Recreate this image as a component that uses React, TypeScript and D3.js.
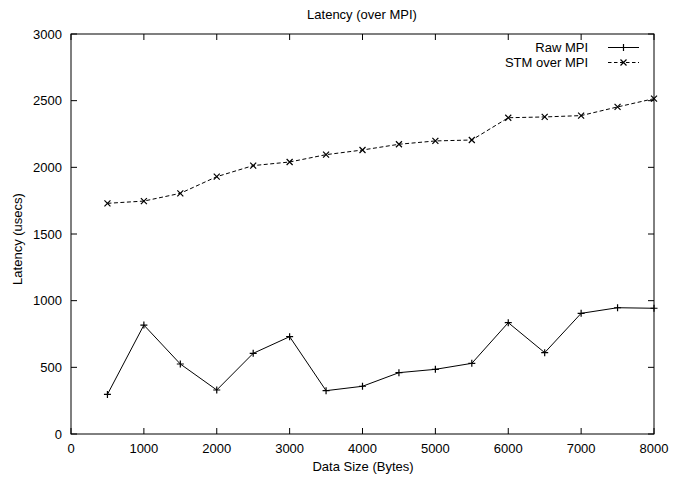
import React from 'react'
import * as d3 from 'd3'

// data sizes in bytes
const sizes = [500, 1000, 1500, 2000, 2500, 3000, 3500, 4000, 4500, 5000, 5500, 6000, 6500, 7000, 7500, 8000]
// latency in usecs
const rawMpi = [297, 817, 525, 330, 605, 730, 325, 358, 460, 485, 530, 835, 610, 905, 947, 943]
const stmOverMpi = [1730, 1747, 1805, 1930, 2013, 2040, 2095, 2130, 2173, 2198, 2205, 2372, 2378, 2388, 2453, 2515]

const xTicks = [0, 1000, 2000, 3000, 4000, 5000, 6000, 7000, 8000]
const yTicks = [0, 500, 1000, 1500, 2000, 2500, 3000]

const width = 679
const height = 481
const margin = { top: 34, right: 25, bottom: 47, left: 71 }
const font = '"Liberation Sans", Arial, sans-serif'

export default function App() {
  const x = d3.scaleLinear().domain([0, 8000]).range([margin.left, width - margin.right])
  const y = d3.scaleLinear().domain([0, 3000]).range([height - margin.bottom, margin.top])

  const line = d3.line<number>()
    .x((_, i) => x(sizes[i]))
    .y(d => y(d))

  const x0 = x(0), x1 = x(8000), y0 = y(0), y1 = y(3000)
  const tickLen = 6

  const plus = (cx: number, cy: number, s = 3.5) =>
    `M${cx - s},${cy}H${cx + s}M${cx},${cy - s}V${cy + s}`
  const cross = (cx: number, cy: number, s = 3) =>
    `M${cx - s},${cy - s}L${cx + s},${cy + s}M${cx - s},${cy + s}L${cx + s},${cy - s}`

  const legendX1 = 608
  const legendX2 = 639

  return (
    <svg width={width} height={height} style={{ position: 'absolute', left: 0, top: 0, background: '#fff' }}
      fontFamily={font} fontSize={13}>
      <rect x={0} y={0} width={width} height={height} fill="#fff" />

      {/* ticks */}
      {xTicks.map(t => (
        <g key={'x' + t}>
          <line x1={x(t)} x2={x(t)} y1={y0} y2={y0 - tickLen} stroke="#000" />
          <line x1={x(t)} x2={x(t)} y1={y1} y2={y1 + tickLen} stroke="#000" />
          <text x={x(t)} y={y0 + 19} textAnchor="middle" fill="#000">{t}</text>
        </g>
      ))}
      {yTicks.map(t => (
        <g key={'y' + t}>
          <line x1={x0} x2={x0 + tickLen} y1={y(t)} y2={y(t)} stroke="#000" />
          <line x1={x1} x2={x1 - tickLen} y1={y(t)} y2={y(t)} stroke="#000" />
          <text x={x0 - 9} y={y(t) + 4.5} textAnchor="end" fill="#000">{t}</text>
        </g>
      ))}

      <rect x={x0} y={y1} width={x1 - x0} height={y0 - y1} fill="none" stroke="#000" />

      {/* series */}
      <path d={line(rawMpi) || ''} fill="none" stroke="#000" strokeWidth={1} />
      {rawMpi.map((v, i) => (
        <path key={'r' + i} d={plus(x(sizes[i]), y(v))} stroke="#000" strokeWidth={1.2} />
      ))}
      <path d={line(stmOverMpi) || ''} fill="none" stroke="#000" strokeWidth={1} strokeDasharray="4,2.5" />
      {stmOverMpi.map((v, i) => (
        <path key={'s' + i} d={cross(x(sizes[i]), y(v))} stroke="#000" strokeWidth={1.2} />
      ))}

      {/* legend */}
      <text x={588} y={52} textAnchor="end" fill="#000">Raw MPI</text>
      <line x1={legendX1} x2={legendX2} y1={47.5} y2={47.5} stroke="#000" />
      <path d={plus((legendX1 + legendX2) / 2, 47.5)} stroke="#000" strokeWidth={1.2} />
      <text x={588} y={67} textAnchor="end" fill="#000">STM over MPI</text>
      <line x1={legendX1} x2={legendX2} y1={62.5} y2={62.5} stroke="#000" strokeDasharray="3.5,2.5" />
      <path d={cross((legendX1 + legendX2) / 2, 62.5)} stroke="#000" strokeWidth={1.2} />

      {/* titles */}
      <text x={362} y={19} textAnchor="middle" fill="#000">Latency (over MPI)</text>
      <text x={363} y={471} textAnchor="middle" fill="#000">Data Size (Bytes)</text>
      <text transform={`translate(22,${239}) rotate(-90)`} textAnchor="middle" fill="#000">Latency (usecs)</text>
    </svg>
  )
}
